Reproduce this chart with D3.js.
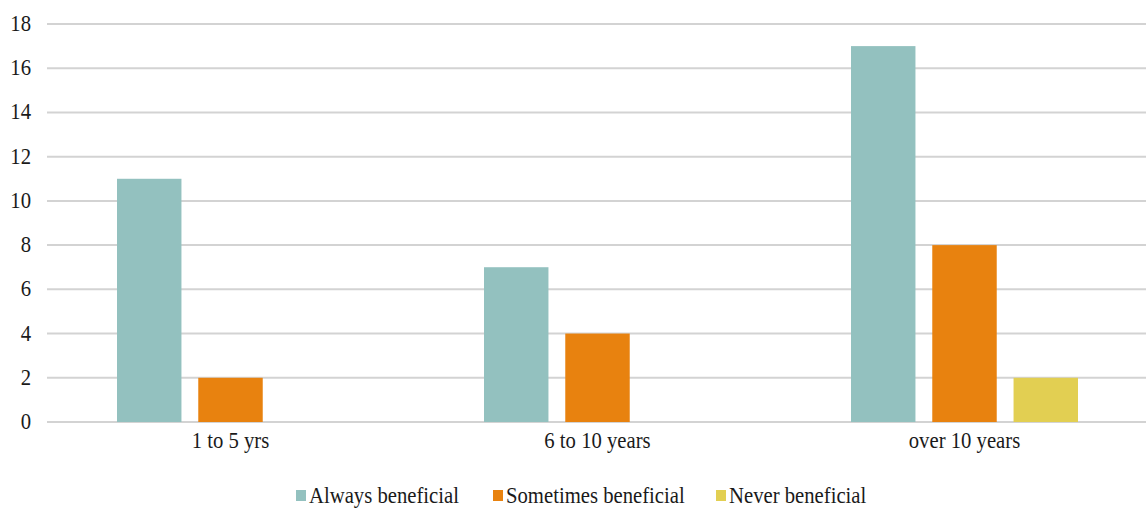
<!DOCTYPE html>
<html>
<head>
<meta charset="utf-8">
<script src="https://cdn.jsdelivr.net/npm/d3@7"></script>
<style>
  html, body { margin: 0; padding: 0; background: #fff; }
  svg { display: block; }
</style>
</head>
<body>
<svg id="chart" width="1146" height="508"></svg>
<script>
// Survey responses by years of experience
const categories = ["1 to 5 yrs", "6 to 10 years", "over 10 years"];
const seriesNames = ["Always beneficial", "Sometimes beneficial", "Never beneficial"];
const always = [11, 7, 17];
const sometimes = [2, 4, 8];
const never = [0, 0, 2];
const yTicks = [0, 2, 4, 6, 8, 10, 12, 14, 16, 18];
const colors = ["#93c1bf", "#e8820f", "#e2cf52"];

const seriesValues = [always, sometimes, never];
const rows = categories.map((c, i) => ({
  category: c,
  values: seriesNames.map((s, j) => ({ series: s, value: seriesValues[j][i], idx: j }))
}));

const svg = d3.select("#chart");
const plotLeft = 47, plotRight = 1148, plotTop = 24, plotBottom = 422;
const fontFamily = "'Liberation Serif', 'Times New Roman', Times, serif";
const fontSize = "23px";
const squeeze = "scale(0.9,1)";   // narrow, tall lettering

const x0 = d3.scaleBand().domain(categories).range([plotLeft, plotRight]).paddingInner(0).paddingOuter(0);
const x1 = d3.scaleBand().domain(seriesNames).range([70, 297]).paddingInner(0.207).paddingOuter(0);
const y = d3.scaleLinear().domain([0, 18]).range([plotBottom, plotTop]);
const color = d3.scaleOrdinal().domain(seriesNames).range(colors);

function styleText(sel) {
  sel.attr("font-family", fontFamily)
     .style("font-family", fontFamily)
     .style("font-size", fontSize)
     .attr("fill", "#1a1a1a");
}

// gridlines
svg.append("g")
  .selectAll("line")
  .data(yTicks)
  .join("line")
  .attr("x1", plotLeft).attr("x2", 1146)
  .attr("y1", d => y(d)).attr("y2", d => y(d))
  .attr("stroke", "#d3d3d3").attr("stroke-width", 2);

// y axis labels
const yAxis = d3.axisLeft(y).tickValues(yTicks).tickSize(0).tickPadding(0);
svg.append("g")
  .attr("transform", `translate(31,0)`)
  .call(yAxis)
  .attr("font-family", fontFamily)
  .call(g => g.select(".domain").remove())
  .call(g => g.selectAll("text")
    .call(styleText)
    .attr("dy", "0.28em")
    .attr("transform", squeeze));

// bars
const groups = svg.append("g")
  .selectAll("g")
  .data(rows)
  .join("g")
  .attr("transform", d => `translate(${x0(d.category)},0)`);

groups.selectAll("rect")
  .data(d => d.values.filter(v => v.value > 0))
  .join("rect")
  .attr("x", d => x1(d.series))
  .attr("width", x1.bandwidth())
  .attr("y", d => y(d.value))
  .attr("height", d => y(0) - y(d.value))
  .attr("fill", d => color(d.series));

// category axis labels
const xAxis = d3.axisBottom(x0).tickSize(0).tickPadding(0);
svg.append("g")
  .attr("transform", `translate(0,${plotBottom + 19})`)
  .call(xAxis)
  .attr("font-family", fontFamily)
  .call(g => g.select(".domain").remove())
  .call(g => g.selectAll("text")
    .call(styleText)
    .attr("dy", "0.3em")
    .attr("transform", squeeze));

// legend
const legendX = [296, 493, 716];
const legend = svg.append("g")
  .selectAll("g")
  .data(seriesNames)
  .join("g")
  .attr("transform", (d, i) => `translate(${legendX[i]},495)`);
legend.append("rect")
  .attr("x", 0).attr("y", -5).attr("width", 10).attr("height", 11)
  .attr("fill", d => color(d));
legend.append("text")
  .attr("transform", `translate(13,0) ${squeeze}`)
  .attr("dy", "0.33em")
  .call(styleText)
  .text(d => d);
</script>
</body>
</html>
